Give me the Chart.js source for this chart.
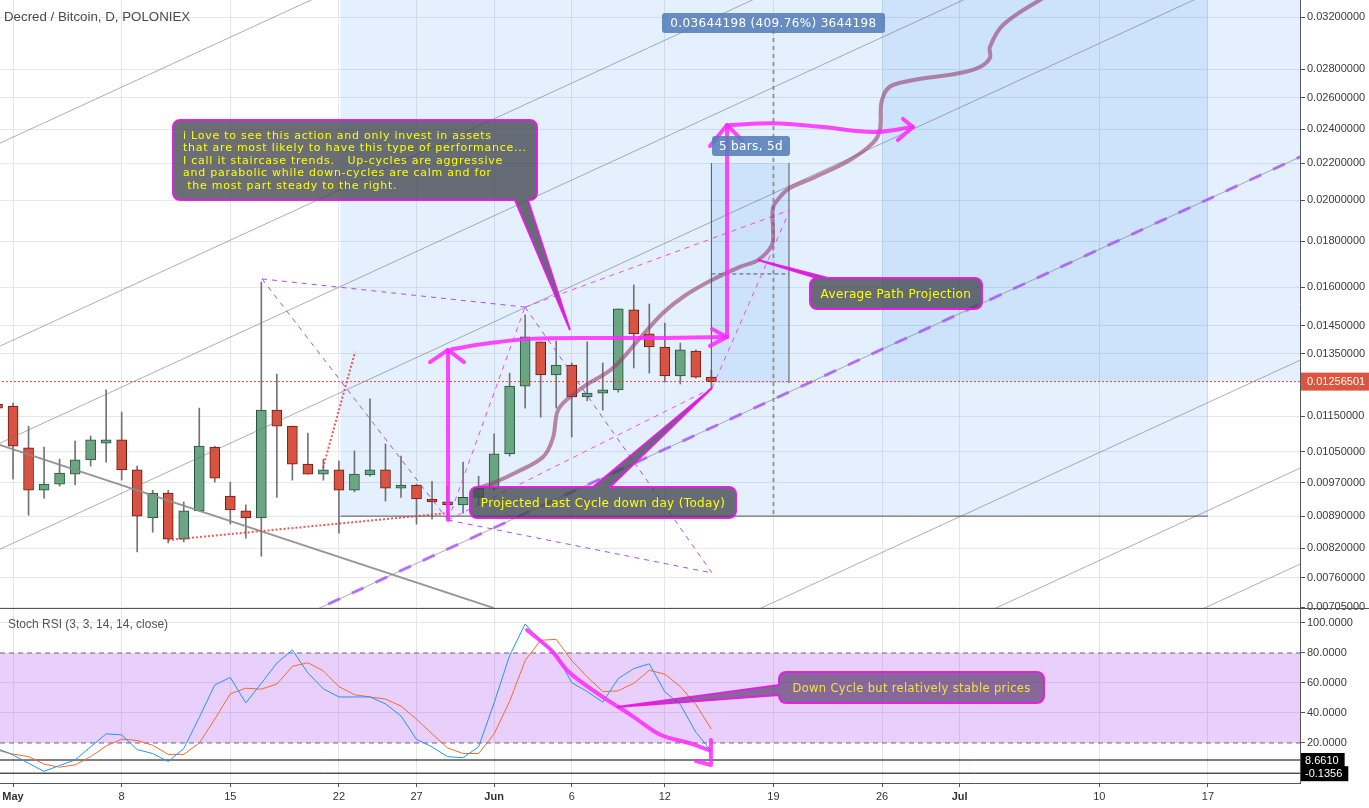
<!DOCTYPE html>
<html>
<head>
<meta charset="utf-8">
<title>Decred / Bitcoin, D, POLONIEX</title>
<script src="https://cdn.jsdelivr.net/npm/chart.js@4.4.1/dist/chart.umd.min.js"></script>
<style>
  html, body { margin: 0; padding: 0; background: #fff; overflow: hidden; }
  canvas { display: block; }
</style>
</head>
<body>
<canvas id="chart" width="1369" height="808"></canvas>
<script>
// ---- axis labels ----
const TICK_DAYS = [0, 7, 14, 21, 26, 31, 36, 42, 49, 56, 61, 70, 77]; // days since May 1
const TICK_LABELS = ['May', '8', '15', '22', '27', 'Jun', '6', '12', '19', '26', 'Jul', '10', '17'];
const MONTHS = ['May', 'Jun', 'Jul'];
const PRICE_TICKS = [0.032, 0.028, 0.026, 0.024, 0.022, 0.020, 0.018, 0.016, 0.0145, 0.0135,
  0.0115, 0.0105, 0.0097, 0.0089, 0.0082, 0.0076, 0.00705];
const STOCH_TICKS = [100, 80, 60, 40, 20];

// ---- daily candles, Apr 30 .. Jun 15 ----
const FIRST_DAY = -1;
const OPEN = [0.01186, 0.01180, 0.01060, 0.00951, 0.00966, 0.00991, 0.01028, 0.01073, 0.01082, 0.01002,
  0.00886, 0.00944, 0.00839, 0.00902, 0.01062, 0.00937, 0.00902, 0.00886, 0.01168, 0.01121,
  0.01017, 0.00991, 0.01002, 0.00951, 0.00989, 0.01002, 0.00956, 0.00964, 0.00930, 0.00923,
  0.00916, 0.00934, 0.00956, 0.01044, 0.01242, 0.01391, 0.01278, 0.01311, 0.01208, 0.01220,
  0.01230, 0.01510, 0.01420, 0.01373, 0.01275, 0.01359, 0.01271];
const HIGH = [0.01200, 0.01189, 0.01121, 0.01062, 0.01030, 0.01079, 0.01093, 0.01230, 0.01162, 0.01012,
  0.00951, 0.00951, 0.00923, 0.01174, 0.01065, 0.00971, 0.00916, 0.01622, 0.01281, 0.01121,
  0.01101, 0.01030, 0.01025, 0.01052, 0.01202, 0.01071, 0.01038, 0.00966, 0.00973, 0.00961,
  0.01022, 0.00986, 0.01099, 0.01284, 0.01491, 0.01391, 0.01394, 0.01318, 0.01391, 0.01318,
  0.01514, 0.01610, 0.01533, 0.01460, 0.01387, 0.01363, 0.01294];
const LOW = [0.01160, 0.00979, 0.00892, 0.00932, 0.00961, 0.00964, 0.01012, 0.01022, 0.00976, 0.00812,
  0.00854, 0.00831, 0.00833, 0.00902, 0.00971, 0.00872, 0.00841, 0.00803, 0.00934, 0.00976,
  0.00991, 0.00976, 0.00852, 0.00947, 0.00986, 0.00925, 0.00934, 0.00872, 0.00883, 0.00886,
  0.00897, 0.00916, 0.00951, 0.01038, 0.01174, 0.01147, 0.01174, 0.01090, 0.01196, 0.01168,
  0.01223, 0.01301, 0.01284, 0.01255, 0.01249, 0.01268, 0.01233];
const CLOSE = [0.01174, 0.01065, 0.00951, 0.00966, 0.00994, 0.01028, 0.01082, 0.01082, 0.01002, 0.00890,
  0.00944, 0.00839, 0.00902, 0.01065, 0.00981, 0.00904, 0.00886, 0.01168, 0.01121, 0.01017,
  0.00991, 0.01002, 0.00951, 0.00991, 0.01002, 0.00956, 0.00964, 0.00930, 0.00923, 0.00916,
  0.00934, 0.00956, 0.01044, 0.01242, 0.01409, 0.01278, 0.01311, 0.01208, 0.01220, 0.01230,
  0.01514, 0.01420, 0.01373, 0.01275, 0.01363, 0.01271, 0.01256501];
const LAST_PRICE = 0.01256501;

// ---- Stoch RSI (3, 3, 14, 14, close), same days ----
const STOCH_K = [16.3, 12.0, 6.5, 1.1, 5.0, 8.7, 17.4, 26.1, 25.4, 15.6, 13.0, 7.6, 16.3, 37.0, 58.7, 63.7,
  46.7, 59.8, 73.3, 82.0, 66.7, 56.1, 50.7, 50.7, 50.7, 46.1, 38.0, 22.4, 17.4, 10.9, 10.2, 17.4,
  46.7, 78.3, 99.3, 88.0, 79.3, 60.2, 54.3, 47.2, 63.0, 69.6, 72.8, 54.1, 45.7, 27.2, 14.6];
const STOCH_D = [15.2, 12.6, 10.9, 5.9, 3.9, 5.4, 10.9, 18.0, 22.6, 21.7, 18.5, 12.4, 12.4, 20.0, 35.9, 52.8,
  56.5, 55.9, 59.3, 71.1, 73.5, 68.0, 57.6, 52.2, 50.7, 49.3, 44.6, 35.9, 26.1, 16.7, 13.0, 13.0,
  26.1, 47.8, 75.0, 88.5, 89.1, 75.0, 64.1, 54.3, 54.8, 59.8, 68.5, 65.9, 57.6, 45.7, 29.3];
const STOCH_BAND = [80, 20];
const STOCH_MARKS = [8.661, -0.1356];

// ---- drawings, [day, value] ----
const CHANNEL_LINES = [
  [[-1, 0.02309], [83, 0.10748]],
  [[-1, 0.013722], [83, 0.06385]],
  [[-1, 0.010701], [83, 0.04979]],
  [[-1, 0.008153], [83, 0.03794]],
  [[-1, 0.004809], [83, 0.02238]],
  [[-1, 0.002857], [83, 0.01329]],
  [[-1, 0.002166], [83, 0.010077]],
  [[-1, 0.0016934], [83, 0.007879]]
];
const DOWN_LINE = [[-1, 0.010704], [31, 0.00703]];
const TREND_LINE = [[-1, 0.004809], [83, 0.02238]];
const ZONES = [
  [[21.1, 0.0089], [77, 0.04]],
  [[56, 0.012565], [90, 0.04]],
  [[45, 0.01252], [50, 0.02201]]
];
const RANGE_BASE = [[21.1, 0.0089], [77, 0.0089]];
const RANGE_MID = [[49, 0.03095], [49, 0.0089]];
const BAR_EDGES = [[[45, 0.01252], [45, 0.02201]], [[50, 0.01252], [50, 0.02201]]];
const BAR_MID = [[45, 0.01656], [50, 0.01656]];
const RED_DOTTED = [
  [[19.97, 0.01007], [22.04, 0.01356]],
  [[9.99, 0.00837], [28.03, 0.00897]]
];
const PURPLE_DASHED = [
  [[16.04, 0.01635], [32.99, 0.01521]],
  [[16.04, 0.01635], [28.03, 0.00881]],
  [[32.99, 0.01521], [45.04, 0.007693]],
  [[28.03, 0.00881], [45.04, 0.007693]]
];
const PINK_DASHED = [
  [[28.03, 0.00881], [32.99, 0.01521]],
  [[32.99, 0.01521], [50.06, 0.01951]],
  [[28.03, 0.00881], [45.04, 0.01236]],
  [[45.04, 0.01236], [50.06, 0.01951]]
];
const AVG_PATH = [[29.96, 0.00956], [30.93, 0.009687], [32.47, 0.009965], [34.15, 0.010355], [34.79, 0.010874],
  [35.05, 0.011594], [35.44, 0.01189], [36.73, 0.01239], [38.66, 0.01301], [40.40, 0.01405], [41.88, 0.01498],
  [43.17, 0.01561], [44.91, 0.01626], [46.84, 0.01686], [48.0, 0.01716], [48.9, 0.01783], [48.97, 0.01853],
  [48.97, 0.01961], [49.42, 0.02017], [50.06, 0.02064], [51.55, 0.02118], [53.93, 0.02218], [55.41, 0.02317],
  [55.86, 0.02395], [55.99, 0.02587], [56.7, 0.02688], [61.02, 0.02772], [62.31, 0.02815], [62.95, 0.02881],
  [62.95, 0.02963], [63.79, 0.03135], [66.17, 0.03343], [67.46, 0.0343]];
const PRICE_ARROWS = [
  { path: [[28.03, 0.00881], [28.03, 0.01363]], head: [[26.87, 0.01321], [28.03, 0.01363], [29.06, 0.01321]] },
  { path: [[28.29, 0.01366], [30.73, 0.01387], [33.31, 0.01402], [37.82, 0.01405], [41.88, 0.01405], [46.01, 0.01409]],
    head: [[45.04, 0.01438], [46.01, 0.01409], [44.91, 0.01377]] },
  { path: [[46.01, 0.01409], [46.01, 0.02426]], head: [[44.91, 0.02299], [46.01, 0.02426], [46.97, 0.02334]] },
  { path: [[46.2, 0.02426], [48.97, 0.02437], [52.19, 0.02413], [55.41, 0.02383], [57.99, 0.02413]],
    head: [[57.35, 0.02464], [57.99, 0.02413], [57.02, 0.02334]] }
];
const STOCH_ARROW = {
  path: [[33.12, 95.3], [34.66, 82.0], [35.82, 67.3], [37.63, 53.3], [40.01, 37.3], [41.75, 25.3], [43.56, 20.0], [44.85, 15.3]],
  head: [[44.97, 22.0], [44.97, 5.3], [44.0, 8.0]]
};

const CALLOUTS = [
  { axis: 'y', at: [10.31, 0.02457], tip: [35.89, 0.01434], w: 364, h: 80, side: 'bottom', a: 342, b: 355, align: 'left',
    size: 11, spacing: 0.75,
    lines: ['i Love to see this action and only invest in assets',
      'that are most likely to have this type of performance...',
      'I call it staircase trends.   Up-cycles are aggressive',
      'and parabolic while down-cycles are calm and for',
      ' the most part steady to the right.'] },
  { axis: 'y', at: [51.35, 0.01639], tip: [48.0, 0.01716], w: 172, h: 31, side: 'top', a: 7, b: 18, align: 'center',
    size: 12, spacing: 0.35, lines: ['Average Path Projection'] },
  { axis: 'y', at: [29.45, 0.00959], tip: [45.04, 0.01236], w: 266, h: 31, side: 'top', a: 123, b: 140, align: 'center',
    size: 12, spacing: 0.35, lines: ['Projected Last Cycle down day (Today)'] },
  { axis: 'y2', at: [49.36, 67.3], tip: [38.92, 44.0], w: 265, h: 31, side: 'left', a: 13, b: 23, align: 'center',
    size: 11.5, spacing: 0.35, lines: ['Down Cycle but relatively stable prices'], fill: 'rgba(75,40,95,0.62)', color: '#f2e040' }
];
const TAGS = [
  { at: [49, 0.0323], w: 223, text: '0.03644198 (409.76%) 3644198' },
  { at: [47.55, 0.02358], w: 78, text: '5 bars, 5d' }
];

// ---- helpers ----
const pts = arr => arr.map(([x, y]) => ({ x, y }));
function lineSet(points, axis, style) {
  return Object.assign({ type: 'line', data: pts(points), yAxisID: axis, pointRadius: 0, pointHoverRadius: 0,
    fill: false, tension: 0, borderWidth: 1 }, style);
}

const days = OPEN.map((_, i) => FIRST_DAY + i);
const rising = OPEN.map((o, i) => CLOSE[i] >= o);

const datasets = [];
// stoch pane furniture
datasets.push(lineSet([[-2, STOCH_BAND[0]], [90, STOCH_BAND[0]]], 'y2',
  { fill: { value: STOCH_BAND[1] }, backgroundColor: 'rgba(167,63,243,0.25)', borderColor: 'rgba(90,70,100,0.85)', borderDash: [5, 4] }));
datasets.push(lineSet([[-2, STOCH_BAND[1]], [90, STOCH_BAND[1]]], 'y2',
  { borderColor: 'rgba(90,70,100,0.85)', borderDash: [5, 4] }));
STOCH_MARKS.forEach(v => datasets.push(lineSet([[-2, v], [90, v]], 'y2', { borderColor: '#000' })));

// candles
datasets.push({ type: 'bar', yAxisID: 'y', grouped: false, barThickness: 1, backgroundColor: '#737375',
  data: days.map((d, i) => ({ x: d, y: [LOW[i], HIGH[i]] })) });
datasets.push({ type: 'bar', yAxisID: 'y', grouped: false, barThickness: 10, borderWidth: 1, borderSkipped: false,
  minBarLength: 2,
  backgroundColor: rising.map(u => u ? '#6ba583' : '#d75442'),
  borderColor: rising.map(u => u ? '#225437' : '#6b1a12'),
  data: days.map((d, i) => ({ x: d, y: [OPEN[i], CLOSE[i]] })) });

// price pane drawings
CHANNEL_LINES.forEach(l => datasets.push(lineSet(l, 'y', { borderColor: 'rgba(110,110,110,0.55)' })));
datasets.push(lineSet(DOWN_LINE, 'y', { borderColor: 'rgba(140,140,140,0.9)', borderWidth: 2 }));
datasets.push(lineSet(TREND_LINE, 'y', { borderColor: 'rgba(165,80,255,0.75)', borderWidth: 3, borderDash: [13, 13] }));
datasets.push(lineSet(RANGE_BASE, 'y', { borderColor: '#555' }));
datasets.push(lineSet(RANGE_MID, 'y', { borderColor: 'rgba(140,140,140,0.9)', borderWidth: 2, borderDash: [4, 4] }));
BAR_EDGES.forEach(l => datasets.push(lineSet(l, 'y', { borderColor: '#555' })));
datasets.push(lineSet(BAR_MID, 'y', { borderColor: '#555', borderDash: [4, 3] }));
datasets.push(lineSet([[-2, LAST_PRICE], [90, LAST_PRICE]], 'y', { borderColor: '#e8452c', borderDash: [2, 2] }));
RED_DOTTED.forEach(l => datasets.push(lineSet(l, 'y', { borderColor: 'rgba(235,60,60,0.85)', borderWidth: 2, borderDash: [2, 2] })));
PURPLE_DASHED.forEach(l => datasets.push(lineSet(l, 'y', { borderColor: '#a54cff', borderDash: [5, 5] })));
PINK_DASHED.forEach(l => datasets.push(lineSet(l, 'y', { borderColor: '#ff40ff', borderDash: [5, 5] })));

// stoch lines
datasets.push(lineSet(days.map((d, i) => [d, STOCH_D[i]]), 'y2', { borderColor: '#f66a2a' }));
datasets.push(lineSet(days.map((d, i) => [d, STOCH_K[i]]), 'y2', { borderColor: '#2196f3' }));

// projection and brush arrows
datasets.push(lineSet(AVG_PATH, 'y', { borderColor: 'rgba(150,60,110,0.6)', borderWidth: 4, tension: 0.35, borderCapStyle: 'round' }));
const brush = { borderColor: 'rgba(255,40,255,0.85)', borderWidth: 4, borderCapStyle: 'round', borderJoinStyle: 'round' };
PRICE_ARROWS.forEach(a => {
  datasets.push(lineSet(a.path, 'y', Object.assign({ tension: 0.35 }, brush)));
  datasets.push(lineSet(a.head, 'y', brush));
});
datasets.push(lineSet(STOCH_ARROW.path, 'y2', Object.assign({ tension: 0.35 }, brush)));
datasets.push(lineSet(STOCH_ARROW.head, 'y2', brush));

// later entries are drawn on top
datasets.forEach((d, i) => { d.order = datasets.length - i; });

// ---- plugins ----
const paneClip = {
  id: 'paneClip',
  beforeDatasetDraw(chart, args) {
    const s = chart.scales[args.meta.yAxisID];
    const a = chart.chartArea;
    chart.ctx.save();
    chart.ctx.beginPath();
    chart.ctx.rect(a.left, s.top, a.right - a.left, s.bottom - s.top);
    chart.ctx.clip();
  },
  afterDatasetDraw(chart) { chart.ctx.restore(); }
};

function px(chart, axis, p) {
  return [chart.scales.x.getPixelForValue(p[0]), chart.scales[axis].getPixelForValue(p[1])];
}

const zones = {
  id: 'zones',
  beforeDatasetsDraw(chart) {
    const { ctx, chartArea: a } = chart;
    const ys = chart.scales.y;
    ctx.save();
    ctx.beginPath();
    ctx.rect(a.left, ys.top, a.right - a.left, ys.bottom - ys.top);
    ctx.clip();
    ctx.fillStyle = 'rgba(30,130,240,0.12)';
    ZONES.forEach(z => {
      const [x1, y1] = px(chart, 'y', z[0]);
      const [x2, y2] = px(chart, 'y', z[1]);
      ctx.fillRect(Math.min(x1, x2), Math.min(y1, y2), Math.abs(x2 - x1), Math.abs(y2 - y1));
    });
    ctx.restore();
  }
};

function calloutPath(ctx, x, y, w, h, r, side, a, b, tx, ty) {
  ctx.beginPath();
  ctx.moveTo(x + r, y);
  if (side === 'top') { ctx.lineTo(x + a, y); ctx.lineTo(tx, ty); ctx.lineTo(x + b, y); }
  ctx.lineTo(x + w - r, y);
  ctx.arcTo(x + w, y, x + w, y + r, r);
  ctx.lineTo(x + w, y + h - r);
  ctx.arcTo(x + w, y + h, x + w - r, y + h, r);
  if (side === 'bottom') { ctx.lineTo(x + b, y + h); ctx.lineTo(tx, ty); ctx.lineTo(x + a, y + h); }
  ctx.lineTo(x + r, y + h);
  ctx.arcTo(x, y + h, x, y + h - r, r);
  if (side === 'left') { ctx.lineTo(x, y + b); ctx.lineTo(tx, ty); ctx.lineTo(x, y + a); }
  ctx.lineTo(x, y + r);
  ctx.arcTo(x, y, x + r, y, r);
  ctx.closePath();
}

const notes = {
  id: 'notes',
  afterDatasetsDraw(chart) {
    const ctx = chart.ctx;
    ctx.save();
    CALLOUTS.forEach(c => {
      const [x, y] = px(chart, c.axis, c.at);
      const [tx, ty] = px(chart, c.axis, c.tip);
      calloutPath(ctx, Math.round(x), Math.round(y), c.w, c.h, 7, c.side, c.a, c.b, tx, ty);
      ctx.fillStyle = c.fill || 'rgba(65,70,78,0.78)';
      ctx.fill();
      ctx.lineWidth = 2;
      ctx.strokeStyle = 'rgba(230,25,230,0.95)';
      ctx.stroke();
      ctx.fillStyle = c.color || '#ffff00';
      ctx.textBaseline = 'middle';
      ctx.font = c.size + 'px "DejaVu Sans"';
      ctx.letterSpacing = c.spacing + 'px';
      if (c.align === 'left') {
        ctx.textAlign = 'left';
        c.lines.forEach((t, i) => ctx.fillText(t, x + 10, y + 16 + i * 12.4));
      } else {
        ctx.textAlign = 'center';
        ctx.fillText(c.lines[0], x + c.w / 2, y + c.h / 2 + 1);
      }
      ctx.letterSpacing = '0px';
    });
    TAGS.forEach(t => {
      const [cx, y] = px(chart, 'y', t.at);
      const x = Math.round(cx - t.w / 2);
      ctx.beginPath();
      ctx.roundRect(x, Math.round(y), t.w, 20, 3);
      ctx.fillStyle = 'rgba(85,125,185,0.88)';
      ctx.fill();
      ctx.fillStyle = '#fff';
      ctx.font = '12px "DejaVu Sans"';
      ctx.letterSpacing = '0.35px';
      ctx.textAlign = 'center';
      ctx.textBaseline = 'middle';
      ctx.fillText(t.text, cx, y + 10.5);
      ctx.letterSpacing = '0px';
    });
    ctx.restore();
  },
  afterDraw(chart) {
    const { ctx } = chart;
    const ys = chart.scales.y, y2 = chart.scales.y2;
    ctx.save();
    // pane separator
    ctx.fillStyle = '#555';
    ctx.fillRect(0, Math.round(ys.bottom), chart.width, 1);
    // titles
    ctx.textAlign = 'left';
    ctx.textBaseline = 'middle';
    ctx.fillStyle = '#4a4a4a';
    ctx.font = '13.3px "Liberation Sans"';
    ctx.fillText('Decred / Bitcoin, D, POLONIEX', 4, 17);
    ctx.fillStyle = '#555';
    ctx.font = '12px "Liberation Sans"';
    ctx.fillText('Stoch RSI (3, 3, 14, 14, close)', 8, Math.round(y2.top) + 17);
    // axis value tags
    ctx.font = '11px "Liberation Sans"';
    const yp = ys.getPixelForValue(LAST_PRICE);
    ctx.fillStyle = '#dc553e';
    ctx.fillRect(ys.left + 1, yp - 9, chart.width - ys.left - 1, 18);
    ctx.fillStyle = '#fff';
    ctx.fillText(LAST_PRICE.toFixed(8), ys.left + 7, yp + 0.5);
    STOCH_MARKS.forEach(v => {
      const yv = y2.getPixelForValue(v);
      const label = v.toFixed(4);
      const w = ctx.measureText(label).width + 10;
      ctx.fillStyle = '#000';
      ctx.fillRect(y2.left + 1, yv - 7, w, 15);
      ctx.fillStyle = '#fff';
      ctx.fillText(label, y2.left + 5, yv + 0.5);
    });
    ctx.restore();
  }
};

// ---- chart ----
const labelFor = v => TICK_LABELS[TICK_DAYS.indexOf(v)] || '';
const axisFont = { family: 'Liberation Sans', size: 11 };

new Chart(document.getElementById('chart'), {
  type: 'line',
  data: { datasets },
  options: {
    responsive: false,
    animation: false,
    events: [],
    layout: { padding: 0 },
    plugins: { legend: { display: false }, tooltip: { enabled: false } },
    scales: {
      x: {
        type: 'linear', position: 'bottom', min: -0.84, max: 82.93, offset: false,
        afterBuildTicks: s => { s.ticks = TICK_DAYS.map(v => ({ value: v })); },
        afterFit: s => { s.height = 25; s.paddingLeft = 0; s.paddingRight = 0; },
        grid: { color: '#e6e6e6', tickColor: '#555', tickLength: 4, offset: false },
        border: { color: '#555' },
        ticks: {
          autoSkip: false, maxRotation: 0, padding: 3, color: '#333',
          callback: v => labelFor(v),
          font: c => Object.assign({}, axisFont, { weight: MONTHS.includes(labelFor(c.tick && c.tick.value)) ? 'bold' : 'normal' })
        }
      },
      y: {
        type: 'logarithmic', position: 'right', stack: 'panes', stackWeight: 608, weight: 1,
        min: 0.007032, max: 0.033426,
        afterBuildTicks: s => { s.ticks = PRICE_TICKS.map(v => ({ value: v })); },
        afterFit: s => { s.width = 69; s.paddingTop = 0; s.paddingBottom = 0; },
        grid: { color: '#e8e8e8', tickColor: '#555', tickLength: 5 },
        border: { color: '#555' },
        ticks: { autoSkip: false, padding: 2, color: '#3a3a3a', font: axisFont, callback: v => Number(v).toFixed(8) }
      },
      y2: {
        type: 'linear', position: 'right', stack: 'panes', stackWeight: 175, weight: 2,
        min: -6.67, max: 110,
        afterBuildTicks: s => { s.ticks = STOCH_TICKS.map(v => ({ value: v })); },
        afterFit: s => { s.width = 69; s.paddingTop = 0; s.paddingBottom = 0; },
        grid: {
          color: c => (c.tick && STOCH_BAND.includes(c.tick.value)) ? 'rgba(0,0,0,0)' : '#e6e6e6',
          tickColor: '#555', tickLength: 5
        },
        border: { color: '#555' },
        ticks: { autoSkip: false, padding: 2, color: '#3a3a3a', font: axisFont, callback: v => Number(v).toFixed(4) }
      }
    }
  },
  plugins: [paneClip, zones, notes]
});
</script>
</body>
</html>
